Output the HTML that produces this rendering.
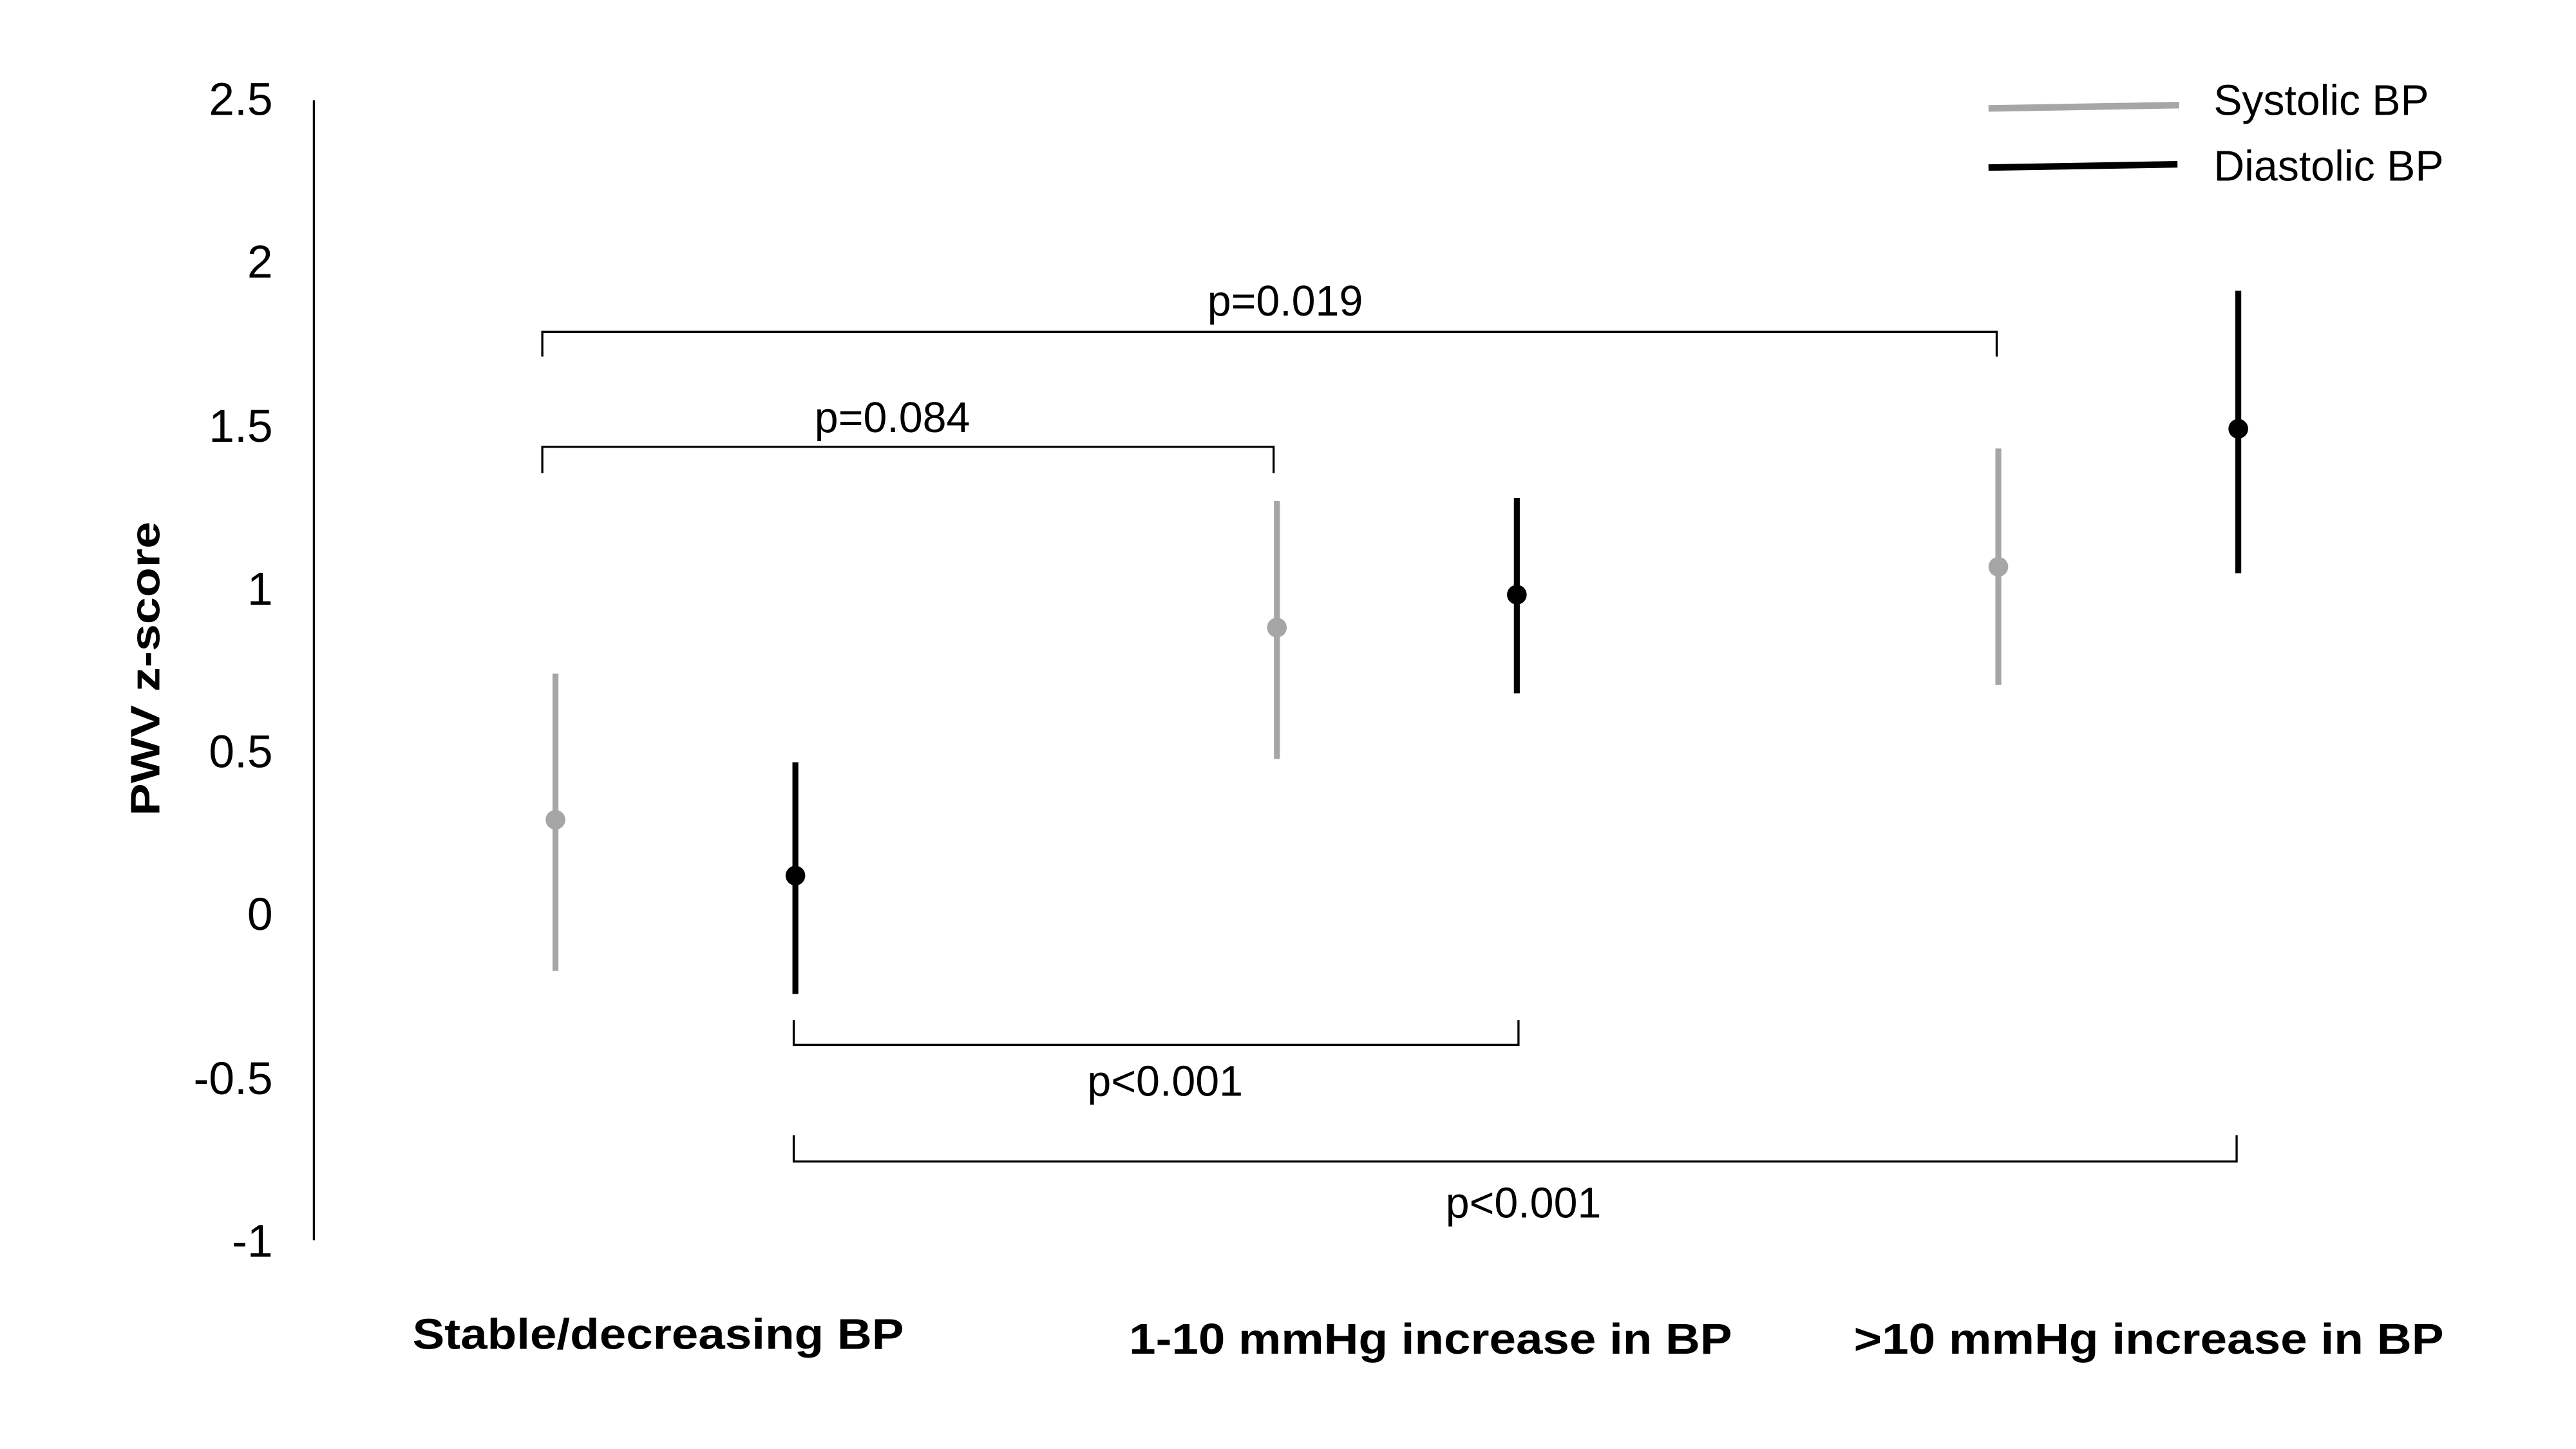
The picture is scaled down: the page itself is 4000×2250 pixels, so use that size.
<!DOCTYPE html>
<html><head><meta charset="utf-8"><style>html,body{margin:0;padding:0;background:#fff}svg{display:block}</style></head>
<body>
<svg width="4000" height="2250" viewBox="0 0 1567.5 882" preserveAspectRatio="none" xmlns="http://www.w3.org/2000/svg" font-family="Liberation Sans, Arial, sans-serif">
<rect width="1567.5" height="882" fill="#fff"/>
<line x1="191" y1="61" x2="191" y2="755" stroke="#000" stroke-width="1.3"/>
<g font-size="28" text-anchor="end" fill="#000">
<text x="166" y="70">2.5</text>
<text x="166" y="169">2</text>
<text x="166" y="269">1.5</text>
<text x="166" y="368">1</text>
<text x="166" y="467">0.5</text>
<text x="166" y="566">0</text>
<text x="166" y="666">-0.5</text>
<text x="166" y="765">-1</text>
</g>
<text transform="translate(97,407) rotate(-90)" font-size="25" font-weight="bold" text-anchor="middle" textLength="179" lengthAdjust="spacingAndGlyphs">PWV z-score</text>
<g stroke-width="3.6">
<line x1="338" y1="410" x2="338" y2="591" stroke="#a6a6a6"/>
<line x1="484" y1="464" x2="484" y2="605" stroke="#000"/>
<line x1="777" y1="305" x2="777" y2="462" stroke="#a6a6a6"/>
<line x1="923" y1="303" x2="923" y2="422" stroke="#000"/>
<line x1="1216" y1="273" x2="1216" y2="417" stroke="#a6a6a6"/>
<line x1="1362" y1="177" x2="1362" y2="349" stroke="#000"/>
</g>
<circle cx="338" cy="499" r="6" fill="#a6a6a6"/>
<circle cx="484" cy="533" r="6" fill="#000"/>
<circle cx="777" cy="382" r="6" fill="#a6a6a6"/>
<circle cx="923" cy="362" r="6" fill="#000"/>
<circle cx="1216" cy="345" r="6" fill="#a6a6a6"/>
<circle cx="1362" cy="261" r="6" fill="#000"/>
<g fill="none" stroke="#000" stroke-width="1.3">
<polyline points="330,217 330,202 1215,202 1215,217"/>
<polyline points="330,288 330,272 775,272 775,288"/>
<polyline points="483,621 483,636 924,636 924,621"/>
<polyline points="483,691 483,707 1361,707 1361,691"/>
</g>
<g font-size="26" text-anchor="middle" fill="#000">
<text x="782" y="192">p=0.019</text>
<text x="543" y="263">p=0.084</text>
<text x="709" y="667">p&lt;0.001</text>
<text x="927" y="741">p&lt;0.001</text>
</g>
<line x1="1210" y1="66" x2="1326" y2="64" stroke="#a6a6a6" stroke-width="4"/>
<line x1="1210" y1="102" x2="1325" y2="100" stroke="#000" stroke-width="4"/>
<g font-size="26" fill="#000">
<text x="1347" y="70" textLength="131" lengthAdjust="spacingAndGlyphs">Systolic BP</text>
<text x="1347" y="110" textLength="140" lengthAdjust="spacingAndGlyphs">Diastolic BP</text>
</g>
<g font-size="26" font-weight="bold" fill="#000">
<text x="251" y="821" textLength="299" lengthAdjust="spacingAndGlyphs">Stable/decreasing BP</text>
<text x="687" y="824" textLength="367" lengthAdjust="spacingAndGlyphs">1-10 mmHg increase in BP</text>
<text x="1128" y="824" textLength="359" lengthAdjust="spacingAndGlyphs">&gt;10 mmHg increase in BP</text>
</g>
</svg>
</body></html>
